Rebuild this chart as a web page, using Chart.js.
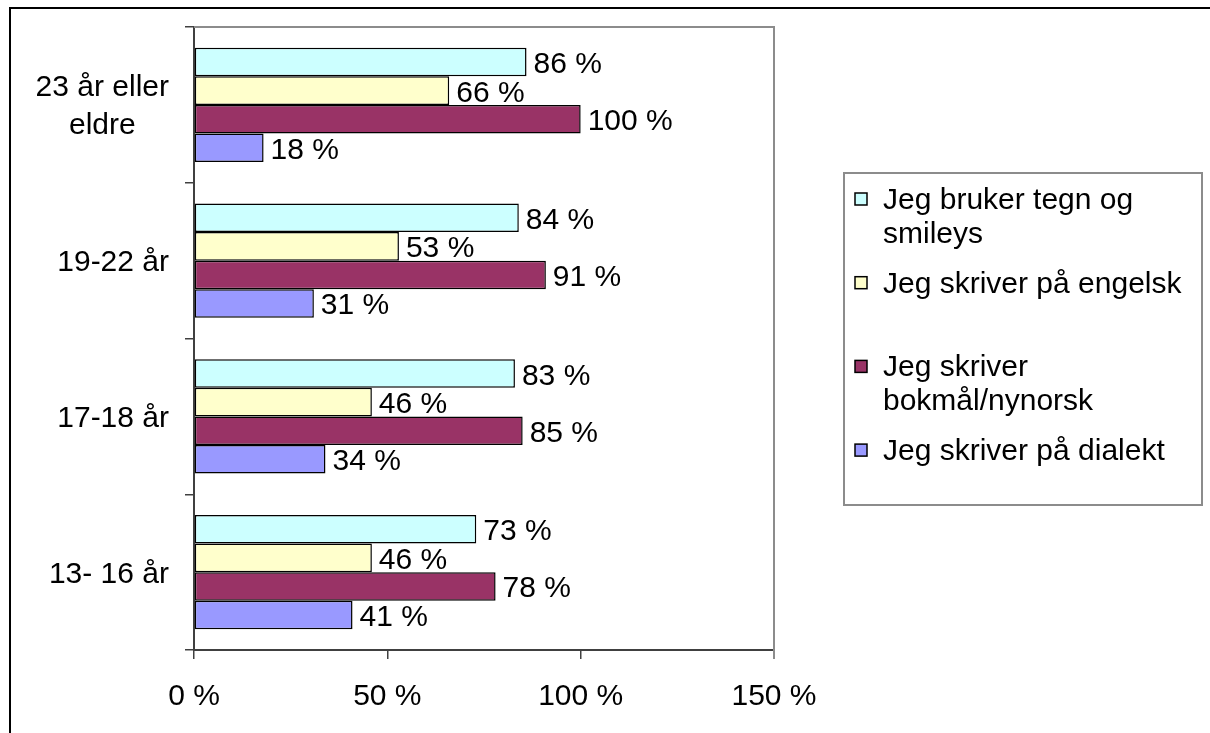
<!DOCTYPE html>
<html>
<head>
<meta charset="utf-8">
<script src="https://cdn.jsdelivr.net/npm/chart.js@4/dist/chart.umd.min.js"></script>
<style>
  html, body { margin: 0; padding: 0; background: #ffffff; }
  #wrap { width: 1210px; height: 733px; position: relative; }
  canvas { display: block; }
</style>
</head>
<body>
<div id="wrap"><canvas id="chart" width="1210" height="733"></canvas></div>
<script>
// Age groups, top to bottom
const ageGroups = [
  ['23 år eller', 'eldre'],
  ['19-22 år'],
  ['17-18 år'],
  ['13- 16 år']
];

// Share of respondents per writing habit (percent)
const tegnOgSmileys   = [86, 84, 83, 73];
const skriverEngelsk  = [66, 53, 46, 46];
const bokmalNynorsk   = [100, 91, 85, 78];
const skriverDialekt  = [18, 31, 34, 41];

const seriesNames = [
  ['Jeg bruker tegn og', 'smileys'],
  ['Jeg skriver på engelsk'],
  ['Jeg skriver', 'bokmål/nynorsk'],
  ['Jeg skriver på dialekt']
];
const seriesColors = ['#CCFFFF', '#FFFFCC', '#993366', '#9999FF'];

const xTickValues = [0, 50, 100, 150];
const xTickLabels = ['0 %', '50 %', '100 %', '150 %'];

const FONT = '"Liberation Sans", Arial, sans-serif';
const fontPx = 30;

const seriesValues = [tegnOgSmileys, skriverEngelsk, bokmalNynorsk, skriverDialekt];

const datasets = seriesValues.map((vals, i) => ({
  label: seriesNames[i].join(' '),
  data: vals,
  backgroundColor: seriesColors[i],
  borderColor: '#000000',
  borderWidth: 1.5,
  borderSkipped: false,
  barPercentage: 1.0,
  categoryPercentage: 0.732
}));

// Plot frame (top and right sides), outer border, text and legend
const decorations = {
  id: 'decorations',
  beforeDatasetsDraw(chart) {
    const { ctx, chartArea: a } = chart;
    ctx.save();
    ctx.strokeStyle = '#8c8c8c';
    ctx.lineWidth = 2;
    ctx.beginPath();
    ctx.moveTo(a.left, a.top);
    ctx.lineTo(a.right, a.top);
    ctx.lineTo(a.right, a.bottom + 9);
    ctx.stroke();
    ctx.restore();
  },
  afterDraw(chart) {
    const { ctx } = chart;
    const xs = chart.scales.x, ys = chart.scales.y;
    ctx.save();
    ctx.font = fontPx + 'px ' + FONT;
    ctx.fillStyle = '#000000';
    ctx.textBaseline = 'alphabetic';

    // value labels at the end of each bar
    chart.data.datasets.forEach((ds, di) => {
      const meta = chart.getDatasetMeta(di);
      meta.data.forEach((el, i) => {
        ctx.textAlign = 'left';
        ctx.fillText(ds.data[i] + ' %', el.x + 7, el.y + 11);
      });
    });

    // category labels
    ageGroups.forEach((lines, i) => {
      const cy = ys.getPixelForValue(i);
      const widths = lines.map(l => ctx.measureText(l).width);
      const blockW = Math.max(...widths);
      const cx = 169 - blockW / 2;
      lines.forEach((l, k) => {
        ctx.textAlign = 'center';
        ctx.fillText(l, cx, cy + 10.5 + (k - (lines.length - 1) / 2) * 38);
      });
    });

    // value axis labels
    xTickValues.forEach((v, i) => {
      ctx.textAlign = 'center';
      ctx.fillText(xTickLabels[i], xs.getPixelForValue(v), 705);
    });

    // legend
    const lx = 844, ly = 173, lw = 358, lh = 332;
    ctx.strokeStyle = '#8c8c8c';
    ctx.lineWidth = 2;
    ctx.strokeRect(lx, ly, lw, lh);
    seriesNames.forEach((lines, i) => {
      const base = 209 + i * 83.7;
      ctx.fillStyle = seriesColors[i];
      ctx.fillRect(855, base - 16, 12, 12);
      ctx.strokeStyle = '#000000';
      ctx.lineWidth = 1.5;
      ctx.strokeRect(855, base - 16, 12, 12);
      ctx.fillStyle = '#000000';
      ctx.textAlign = 'left';
      lines.forEach((l, k) => ctx.fillText(l, 883, base + k * 34));
    });

    // outer frame
    ctx.strokeStyle = '#000000';
    ctx.lineWidth = 2;
    ctx.beginPath();
    ctx.moveTo(10, 733);
    ctx.lineTo(10, 8);
    ctx.lineTo(1210, 8);
    ctx.stroke();
    ctx.restore();
  }
};

new Chart(document.getElementById('chart'), {
  type: 'bar',
  data: { labels: ageGroups, datasets },
  options: {
    indexAxis: 'y',
    responsive: false,
    devicePixelRatio: 1,
    animation: false,
    layout: { padding: { left: 0, top: 27, right: 436, bottom: 0 } },
    plugins: { legend: { display: false }, tooltip: { enabled: false } },
    scales: {
      x: {
        type: 'linear',
        min: 0,
        max: 150,
        afterBuildTicks: s => { s.ticks = xTickValues.map(v => ({ value: v })); },
        ticks: { display: false },
        grid: {
          drawOnChartArea: false,
          drawTicks: true,
          tickLength: 9,
          color: c => (c.tick && c.tick.value === 150 ? '#8c8c8c' : '#404040'),
          lineWidth: 1.5
        },
        border: { color: '#404040', width: 2 },
        afterFit: s => { s.height = 83; }
      },
      y: {
        type: 'category',
        ticks: { display: false },
        grid: {
          offset: true,
          drawOnChartArea: false,
          drawTicks: true,
          tickLength: 9,
          color: '#404040',
          lineWidth: 1.5
        },
        border: { color: '#404040', width: 2 },
        afterFit: s => { s.width = 194; }
      }
    }
  },
  plugins: [decorations]
});
</script>
</body>
</html>
